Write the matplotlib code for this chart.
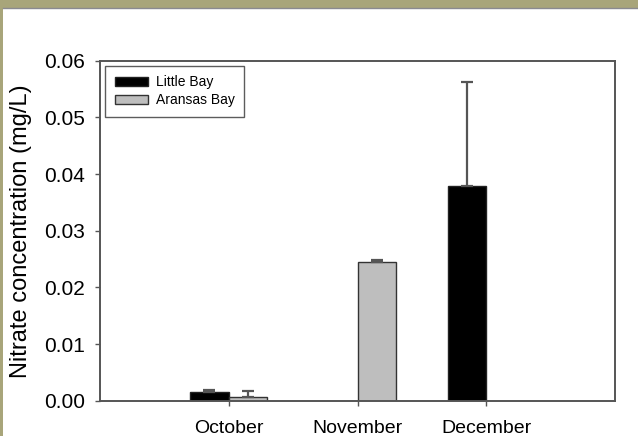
import numpy as np
import matplotlib
matplotlib.use("Agg")
from matplotlib import pyplot as plt
from matplotlib.patches import Rectangle

# data
months = ["October", "November", "December"]
little_bay = [0.0016, np.nan, 0.0378]
little_bay_err = [0.0003, np.nan, 0.0185]
aransas = [0.0007, 0.0245, np.nan]
aransas_err = [0.0011, 0.0004, np.nan]

plt.rcParams['font.family'] = ['Liberation Sans', 'DejaVu Sans']

fig = plt.figure(figsize=(6.38, 4.36), dpi=100, facecolor="white")

# olive frame along top and left edge
olive = "#a8a57a"
fig.patches.append(Rectangle((0, 1 - 8 / 436), 1, 8 / 436, transform=fig.transFigure,
                             facecolor=olive, edgecolor="none", zorder=0))
fig.patches.append(Rectangle((0, 0), 3 / 638, 1, transform=fig.transFigure,
                             facecolor=olive, edgecolor="none", zorder=0))
fig.lines.append(plt.Line2D([3 / 638, 1], [1 - 8.5 / 436, 1 - 8.5 / 436],
                            transform=fig.transFigure, color="#8a8a90", lw=1))

ax = fig.add_axes([100 / 638, 35.3 / 436, 515 / 638, 340 / 436])

x = np.arange(1, len(months) + 1)
w = 0.3
ekw = dict(ecolor="#555555", elinewidth=1.6, capthick=1.6)

ax.bar(x - w / 2, little_bay, width=w, color="black", edgecolor="#222222",
       linewidth=1, label="Little Bay",
       yerr=[np.zeros(len(x)), little_bay_err], capsize=4.3, error_kw=ekw)
ax.bar(x + w / 2, aransas, width=w, color="#bebebe", edgecolor="#333333",
       linewidth=1, label="Aransas Bay",
       yerr=[np.zeros(len(x)), aransas_err], capsize=4.3, error_kw=ekw)

ax.set_xlim(0, 4)
ax.set_ylim(0, 0.06)
ax.set_yticks(np.arange(0, 0.061, 0.01))
ax.set_yticklabels(["%.2f" % v for v in np.arange(0, 0.061, 0.01)])
ax.set_xticks(x)
ax.set_xticklabels(months)

for s in ax.spines.values():
    s.set_color("#555555")
    s.set_linewidth(1.4)

ax.tick_params(axis="y", direction="out", length=3.6, width=1, color="#555555",
               labelsize=15, pad=7)
ax.tick_params(axis="x", direction="out", length=3.6, width=1, color="#555555",
               labelsize=14, pad=10)
ax.set_ylabel("Nitrate concentration (mg/L)", fontsize=17, labelpad=9)

leg = ax.legend(loc="upper left", fontsize=10, frameon=True, fancybox=False,
                handlelength=2.4, handleheight=0.65, borderpad=0.7,
                labelspacing=0.3, handletextpad=0.55,
                bbox_to_anchor=(0.0, 1.0), borderaxespad=0.35)
leg.get_frame().set_edgecolor("#333333")
leg.get_frame().set_linewidth(1)

fig.savefig("out.png", dpi=100, facecolor="white")
